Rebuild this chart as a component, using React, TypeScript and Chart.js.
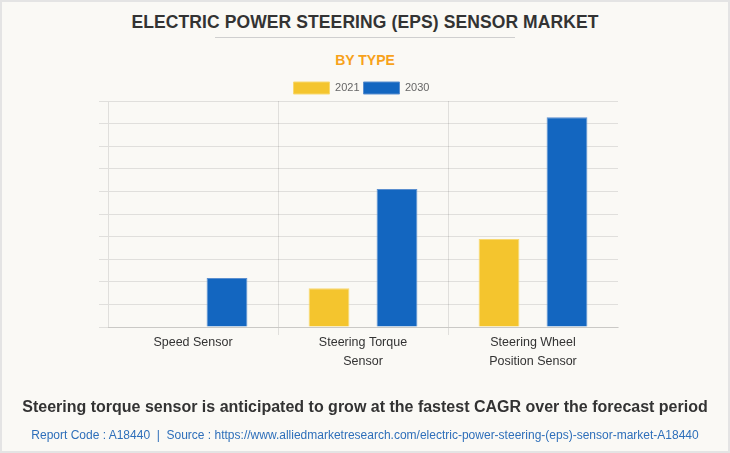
import React, { useEffect, useRef } from "react";
import { Chart, registerables } from "chart.js";

Chart.register(...registerables);

const TITLE = "ELECTRIC POWER STEERING (EPS) SENSOR MARKET";
const SUBTITLE = "BY TYPE";
const FOOTNOTE =
  "Steering torque sensor is anticipated to grow at the fastest CAGR over the forecast period";
const SOURCE =
  "Report Code : A18440  |  Source : https://www.alliedmarketresearch.com/electric-power-steering-(eps)-sensor-market-A18440";

const categories: (string | string[])[] = [
  "Speed Sensor",
  ["Steering Torque", "Sensor"],
  ["Steering Wheel", "Position Sensor"],
];
const seriesNames = ["2021", "2030"];
const values2021 = [0, 1.72, 3.89];
const values2030 = [2.17, 6.11, 9.28];
const yMin = 0;
const yMax = 10;
const yStep = 1;

const FONT = '"Liberation Sans", Arial, Helvetica, sans-serif';
const GRID = "rgba(0,0,0,0.1)";
const BG = "#faf9f5";

const legendTrim = {
  id: "legendTrim",
  beforeLayout(chart: any) {
    const lg: any = chart.legend;
    if (lg && !lg.__trimmed) {
      const orig = lg.fit;
      lg.fit = function () {
        orig.call(this);
        this.height -= 3;
      };
      lg.__trimmed = true;
    }
  },
  afterLayout(chart: any) {
    const lg: any = chart.legend;
    if (lg) {
      lg.left += 3;
      lg.right += 3;
    }
  },
};

function BarChart() {
  const ref = useRef<HTMLCanvasElement | null>(null);
  useEffect(() => {
    if (!ref.current) return;
    const chart = new Chart(ref.current, {
      type: "bar",
      data: {
        labels: categories as any,
        datasets: [
          {
            label: seriesNames[0],
            data: values2021,
            backgroundColor: "#F4C52E",
            borderColor: "#F8D970",
            borderWidth: 1,
            categoryPercentage: 0.8,
            barPercentage: 0.6,
          },
          {
            label: seriesNames[1],
            data: values2030,
            backgroundColor: "#1366C0",
            borderColor: "#5B8FCF",
            borderWidth: 1,
            categoryPercentage: 0.8,
            barPercentage: 0.6,
          },
        ],
      },
      options: {
        responsive: false,
        animation: false,
        layout: { padding: { top: 78, left: 99, right: 112, bottom: 66 } },
        plugins: {
          legend: {
            position: "top",
            labels: {
              boxWidth: 36,
              boxHeight: 12,
              padding: 4,
              color: "#666",
              font: { size: 11, family: FONT },
            },
          },
          tooltip: { enabled: false },
        },
        scales: {
          x: {
            grid: {
              offset: true,
              tickLength: 8,
              color: (c: any) =>
                c.index === 1 || c.index === 2 ? GRID : "rgba(0,0,0,0)",
            },
            border: { display: true, color: GRID },
            ticks: {
              color: "#333",
              font: { size: 12.5, family: FONT, lineHeight: 1.52 },
              padding: -2,
              maxRotation: 0,
              autoSkip: false,
            },
            afterFit: (s: any) => {
              s.height = 60;
            },
          },
          y: {
            min: yMin,
            max: yMax,
            ticks: { stepSize: yStep, display: false },
            grid: { color: GRID, tickLength: 9 },
            border: { display: true, color: GRID },
            afterFit: (s: any) => {
              s.width = 9;
            },
          },
        },
      },
      plugins: [legendTrim as any],
    });
    return () => chart.destroy();
  }, []);
  return (
    <canvas
      ref={ref}
      width={730}
      height={453}
      style={{ position: "absolute", left: 0, top: 0, display: "block" }}
    />
  );
}

export default function App() {
  const text = (
    top: number,
    content: string,
    size: number,
    lh: number,
    color: string,
    weight: number,
    extra: React.CSSProperties = {}
  ) => (
    <div
      style={{
        position: "absolute",
        left: 0,
        width: 730,
        top,
        textAlign: "center",
        fontFamily: FONT,
        fontSize: size,
        lineHeight: `${lh}px`,
        color,
        fontWeight: weight,
        whiteSpace: "pre",
        ...extra,
      }}
    >
      {content}
    </div>
  );
  return (
    <div
      style={{
        position: "absolute",
        left: 0,
        top: 0,
        width: 730,
        height: 453,
        background: BG,
        overflow: "hidden",
      }}
    >
      {text(12, TITLE, 17.5, 20, "#333", 700, { letterSpacing: "0.1px" })}
      <div
        style={{
          position: "absolute",
          left: 215,
          width: 300,
          top: 37,
          height: 1,
          background: "#cfcfcf",
        }}
      />
      {text(52, SUBTITLE, 14, 16, "#F7A21B", 700)}
      <BarChart />
      {text(398, FOOTNOTE, 16, 18, "#333", 700)}
      {text(428, SOURCE, 12, 14, "#2E6FBA", 400)}
      <div
        style={{
          position: "absolute",
          left: 0,
          top: 0,
          width: 730,
          height: 453,
          boxSizing: "border-box",
          border: "2px solid #e4e4e4",
          pointerEvents: "none",
        }}
      />
    </div>
  );
}
